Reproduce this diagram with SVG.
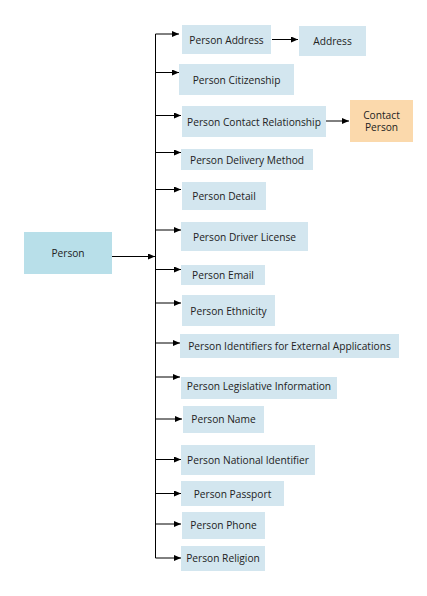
<svg xmlns="http://www.w3.org/2000/svg" width="427" height="596" viewBox="0 0 427 596">
<defs>
<marker id="ah" markerUnits="userSpaceOnUse" markerWidth="8" markerHeight="6" refX="7" refY="3" orient="auto"><path d="M0,0 L7,3 L0,6 z" fill="#000"/></marker>
<style>
.n rect{fill:#D3E6EF}
.root rect{fill:#B8DFE9}
.cp rect{fill:#FBD9AC}
text{font-family:"Open Sans","Noto Sans",sans-serif;font-size:10.2px;fill:#222;text-anchor:middle;dominant-baseline:central}
.c path{fill:none;stroke:#000;stroke-width:1}
.c .a{marker-end:url(#ah)}
</style>
</defs>
<rect width="427" height="596" fill="#fff"/>
<g class="c">
<path d="M155.5,34 V558"/>
<path class="a" d="M112,256.5 H155"/>
<path class="a" d="M155.5,34 H179"/>
<path class="a" d="M155.5,72.5 H179"/>
<path class="a" d="M155.5,115.5 H181"/>
<path class="a" d="M155.5,152.5 H181"/>
<path class="a" d="M155.5,189.5 H181"/>
<path class="a" d="M155.5,230 H181"/>
<path class="a" d="M155.5,269.5 H181"/>
<path class="a" d="M155.5,303 H181"/>
<path class="a" d="M155.5,343 H180"/>
<path class="a" d="M155.5,377 H180"/>
<path class="a" d="M155.5,419 H182"/>
<path class="a" d="M155.5,459.5 H181"/>
<path class="a" d="M155.5,493.5 H181"/>
<path class="a" d="M155.5,524 H181"/>
<path class="a" d="M155.5,558 H181"/>
<path class="a" d="M272,39.5 H298"/>
<path class="a" d="M326,121 H349"/>
</g>
<g id="person" class="root"><rect x="24" y="232" width="88" height="42"/><text x="68" y="252.5">Person</text></g>
<g id="person-address" class="n"><rect x="182" y="25" width="89" height="29"/><text x="226.5" y="39.5">Person Address</text></g>
<g id="address" class="n"><rect x="299" y="26" width="67" height="30"/><text x="332.5" y="41">Address</text></g>
<g id="person-citizenship" class="n"><rect x="179" y="64" width="115" height="31"/><text x="236.5" y="79.5">Person Citizenship</text></g>
<g id="person-contact-relationship" class="n"><rect x="182" y="106" width="144" height="31"/><text x="254" y="121.5">Person Contact Relationship</text></g>
<g id="contact-person" class="cp"><rect x="350" y="100" width="63" height="42"/><text x="381.5" y="114.5">Contact</text><text x="381.5" y="127">Person</text></g>
<g id="person-delivery-method" class="n"><rect x="181" y="149" width="132" height="21"/><text x="247" y="159.5">Person Delivery Method</text></g>
<g id="person-detail" class="n"><rect x="182" y="182" width="84" height="28"/><text x="224" y="195.5">Person Detail</text></g>
<g id="person-driver-license" class="n"><rect x="181" y="222" width="127" height="29"/><text x="244.5" y="236.5">Person Driver License</text></g>
<g id="person-email" class="n"><rect x="181" y="265" width="84" height="20"/><text x="223" y="275">Person Email</text></g>
<g id="person-ethnicity" class="n"><rect x="182" y="295" width="93" height="31"/><text x="228.5" y="310.5">Person Ethnicity</text></g>
<g id="person-identifiers" class="n"><rect x="180" y="334" width="219" height="24"/><text x="289.5" y="345.5">Person Identifiers for External Applications</text></g>
<g id="person-legislative-information" class="n"><rect x="181" y="377" width="156" height="22"/><text x="259" y="385.5">Person Legislative Information</text></g>
<g id="person-name" class="n"><rect x="183" y="406" width="81" height="27"/><text x="223.5" y="419">Person Name</text></g>
<g id="person-national-identifier" class="n"><rect x="181" y="445" width="134" height="30"/><text x="248" y="460">Person National Identifier</text></g>
<g id="person-passport" class="n"><rect x="181" y="481" width="103" height="25"/><text x="232.5" y="493.5">Person Passport</text></g>
<g id="person-phone" class="n"><rect x="182" y="512" width="83" height="27"/><text x="223.5" y="524.5">Person Phone</text></g>
<g id="person-religion" class="n"><rect x="181" y="546" width="84" height="25"/><text x="223" y="558">Person Religion</text></g>
</svg>
